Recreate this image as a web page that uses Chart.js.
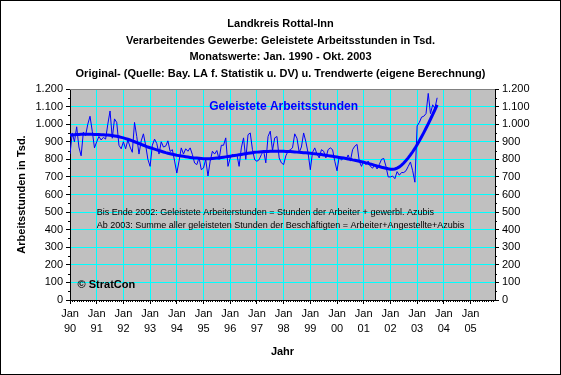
<!DOCTYPE html>
<html>
<head>
<meta charset="utf-8">
<script src="https://cdn.jsdelivr.net/npm/chart.js@4"></script>
<style>
  body { margin: 0; background: #fff; }
  canvas { display: block; }
</style>
</head>
<body>
<canvas id="chart" width="561" height="375"></canvas>
<script>
// monthly values, thousand working hours (Jan 1990 - Oct 2003)
const raw_1990 = [830, 950, 900, 985, 870, 820, 955, 935, 1000, 1045, 960, 865];
const raw_1991 = [900, 930, 910, 925, 915, 1000, 1075, 920, 1030, 1010, 880, 860];
const raw_1992 = [900, 860, 910, 870, 840, 1010, 930, 830, 905, 945, 880, 800];
const raw_1993 = [760, 880, 915, 890, 830, 900, 870, 875, 905, 845, 855, 790];
const raw_1994 = [722, 790, 865, 830, 860, 846, 865, 827, 779, 770, 810, 741];
const raw_1995 = [751, 800, 705, 790, 846, 830, 850, 800, 880, 880, 922, 760];
const raw_1996 = [808, 827, 817, 827, 760, 865, 922, 800, 940, 950, 855, 798];
const raw_1997 = [789, 798, 827, 850, 780, 930, 960, 850, 922, 930, 808, 780];
const raw_1998 = [770, 820, 846, 855, 865, 945, 920, 840, 870, 950, 900, 836];
const raw_1999 = [741, 840, 865, 830, 808, 855, 846, 808, 855, 865, 855, 789];
const raw_2000 = [735, 817, 795, 810, 798, 825, 790, 855, 875, 885, 789, 760];
const raw_2001 = [790, 770, 790, 760, 750, 770, 745, 770, 800, 805, 760, 700];
const raw_2002 = [700, 705, 690, 730, 710, 725, 725, 735, 760, 785, 735, 670];
const raw_2003 = [990, 1010, 1040, 1045, 1060, 1175, 1060, 1110, 1090, 1150];

// trend values (own calculation)
const trend_1990 = [938, 939, 940, 941, 941, 942, 942, 942, 942, 942, 942, 941];
const trend_1991 = [941, 941, 940, 940, 939, 938, 937, 935, 933, 931, 928, 925];
const trend_1992 = [922, 918, 914, 910, 905, 900, 895, 890, 885, 880, 875, 870];
const trend_1993 = [866, 862, 858, 854, 850, 846, 842, 838, 835, 832, 829, 826];
const trend_1994 = [823, 821, 819, 817, 815, 813, 811, 809, 808, 807, 806, 805];
const trend_1995 = [804, 804, 804, 804, 805, 806, 807, 808, 810, 812, 814, 816];
const trend_1996 = [818, 820, 822, 824, 826, 828, 830, 832, 834, 836, 838, 840];
const trend_1997 = [841, 842, 843, 844, 845, 845, 846, 846, 846, 846, 846, 846];
const trend_1998 = [846, 845, 845, 844, 843, 842, 841, 840, 839, 838, 837, 836];
const trend_1999 = [835, 833, 832, 830, 829, 827, 825, 823, 821, 819, 817, 815];
const trend_2000 = [813, 811, 809, 807, 805, 802, 800, 797, 795, 792, 789, 786];
const trend_2001 = [783, 780, 777, 773, 770, 766, 762, 759, 755, 752, 749, 746];
const trend_2002 = [744, 743, 745, 750, 757, 767, 779, 793, 808, 825, 843, 862];
const trend_2003 = [883, 905, 928, 952, 977, 1002, 1028, 1055, 1082, 1110];

const year_labels = ["90", "91", "92", "93", "94", "95", "96", "97", "98", "99", "00", "01", "02", "03", "04", "05"];
const month_label = "Jan";

const raw = [].concat(raw_1990, raw_1991, raw_1992, raw_1993, raw_1994, raw_1995, raw_1996,
  raw_1997, raw_1998, raw_1999, raw_2000, raw_2001, raw_2002, raw_2003);
const trend = [].concat(trend_1990, trend_1991, trend_1992, trend_1993, trend_1994, trend_1995, trend_1996,
  trend_1997, trend_1998, trend_1999, trend_2000, trend_2001, trend_2002, trend_2003);

const FONT = "'Liberation Sans', Arial, sans-serif";
const BLUE = "#0000ff";
const GRID = "#00ffff";

const fmt = (v) => v >= 1000 ? Math.floor(v / 1000) + "." + String(v % 1000).padStart(3, "0") : String(v);

const notes = [
  { text: "Geleistete Arbeitsstunden", x: 96, y: 1100, font: "bold 12px " + FONT, color: BLUE, align: "center" },
  { text: "Bis Ende 2002: Geleistete Arbeiterstunden = Stunden der Arbeiter + gewerbl. Azubis", x: 12, y: 495, font: "9px " + FONT, color: "#000", align: "left" },
  { text: "Ab 2003: Summe aller geleisteten Stunden der Beschäftigten = Arbeiter+Angestellte+Azubis", x: 12, y: 425, font: "9px " + FONT, color: "#000", align: "left" },
  { text: "© StratCon", x: 3.4, y: 85, font: "bold 11px " + FONT, color: "#000", align: "left" },
];

const frame = {
  id: "frame",
  beforeDraw(chart) {
    const { ctx, chartArea: a } = chart;
    ctx.save();
    ctx.fillStyle = "#fff";
    ctx.fillRect(0, 0, chart.width, chart.height);
    ctx.fillStyle = "#c0c0c0";
    ctx.fillRect(a.left, a.top, a.right - a.left, a.bottom - a.top);
    ctx.restore();
  },
  afterDraw(chart) {
    const { ctx, chartArea: a, scales } = chart;
    ctx.save();
    // top border of plot area
    ctx.strokeStyle = "#808080";
    ctx.lineWidth = 1;
    ctx.beginPath();
    ctx.moveTo(a.left, Math.round(a.top) + 0.5);
    ctx.lineTo(a.right, Math.round(a.top) + 0.5);
    ctx.stroke();

    // minor ticks
    ctx.strokeStyle = "#000";
    ctx.beginPath();
    for (let m = 1; m < scales.x.max; m++) {
      if (m % 12 == 0) continue;
      const px = Math.round(scales.x.getPixelForValue(m)) + 0.5;
      ctx.moveTo(px, a.bottom);
      ctx.lineTo(px, a.bottom + 2);
    }
    for (let v = 50; v < 1200; v += 100) {
      const py = Math.round(scales.y.getPixelForValue(v)) + 0.5;
      ctx.moveTo(a.left - 2, py);
      ctx.lineTo(a.left, py);
      ctx.moveTo(a.right, py);
      ctx.lineTo(a.right + 2, py);
    }
    ctx.stroke();

    // notes
    ctx.textBaseline = "middle";
    for (const n of notes) {
      ctx.font = n.font;
      ctx.fillStyle = n.color;
      ctx.textAlign = n.align;
      ctx.fillText(n.text, scales.x.getPixelForValue(n.x), scales.y.getPixelForValue(n.y));
    }

    // outer border
    ctx.strokeStyle = "#000";
    ctx.strokeRect(0.5, 0.5, chart.width - 1, chart.height - 1);
    ctx.restore();
  },
};

new Chart(document.getElementById("chart"), {
  type: "line",
  data: {
    datasets: [
      {
        label: "Original",
        data: raw.map((v, i) => ({ x: i, y: v })),
        borderColor: BLUE,
        borderWidth: 1,
        pointRadius: 0,
        tension: 0,
      },
      {
        label: "Trend",
        data: trend.map((v, i) => ({ x: i, y: v })),
        borderColor: BLUE,
        borderWidth: 3,
        pointRadius: 0,
        tension: 0,
      },
    ],
  },
  options: {
    responsive: false,
    animation: false,
    devicePixelRatio: 1,
    layout: { padding: { left: 10, right: 10, bottom: 12, top: 0 } },
    plugins: {
      legend: { display: false },
      tooltip: { enabled: false },
      title: {
        display: true,
        text: [
          "Landkreis Rottal-Inn",
          "Verarbeitendes Gewerbe: Geleistete Arbeitsstunden in Tsd.",
          "Monatswerte: Jan. 1990 - Okt. 2003",
          "Original- (Quelle: Bay. LA f. Statistik u. DV) u. Trendwerte (eigene Berechnung)",
        ],
        color: "#000",
        font: { family: FONT, size: 11, weight: "bold", lineHeight: 1.5 },
        padding: { top: 16, bottom: 7 },
      },
    },
    scales: {
      x: {
        type: "linear",
        min: 0,
        max: 191,
        afterBuildTicks: (s) => { s.ticks = year_labels.map((_, i) => ({ value: i * 12 })); },
        afterFit: (s) => { s.height = 63; },
        ticks: {
          autoSkip: false,
          maxRotation: 0,
          color: "#000",
          padding: 2,
          font: { family: FONT, size: 11, lineHeight: 1.4 },
          callback: (v) => [month_label, year_labels[v / 12]],
        },
        grid: { color: GRID, lineWidth: 1, tickColor: "#000", tickLength: 4 },
        border: { color: "#000", width: 1 },
        title: {
          display: true,
          text: "Jahr",
          color: "#000",
          font: { family: FONT, size: 11, weight: "bold" },
          padding: { top: 0, bottom: 4 },
        },
      },
      y: {
        min: 0,
        max: 1200,
        afterFit: (s) => { s.width = 60; },
        ticks: {
          stepSize: 100,
          color: "#000",
          padding: 3,
          font: { family: FONT, size: 11 },
          callback: (v) => fmt(v),
        },
        grid: { color: GRID, lineWidth: 1, tickColor: "#000", tickLength: 4 },
        border: { color: "#000", width: 1 },
        title: {
          display: true,
          text: "Arbeitsstunden in Tsd.",
          color: "#000",
          font: { family: FONT, size: 11, weight: "bold" },
          padding: { top: 5, bottom: 0 },
        },
      },
      y2: {
        position: "right",
        min: 0,
        max: 1200,
        afterFit: (s) => { s.width = 56; },
        ticks: {
          stepSize: 100,
          color: "#000",
          padding: 3,
          font: { family: FONT, size: 11 },
          callback: (v) => fmt(v),
        },
        grid: { drawOnChartArea: false, tickColor: "#000", tickLength: 4 },
        border: { color: "#000", width: 1 },
      },
    },
  },
  plugins: [frame],
});
</script>
</body>
</html>
